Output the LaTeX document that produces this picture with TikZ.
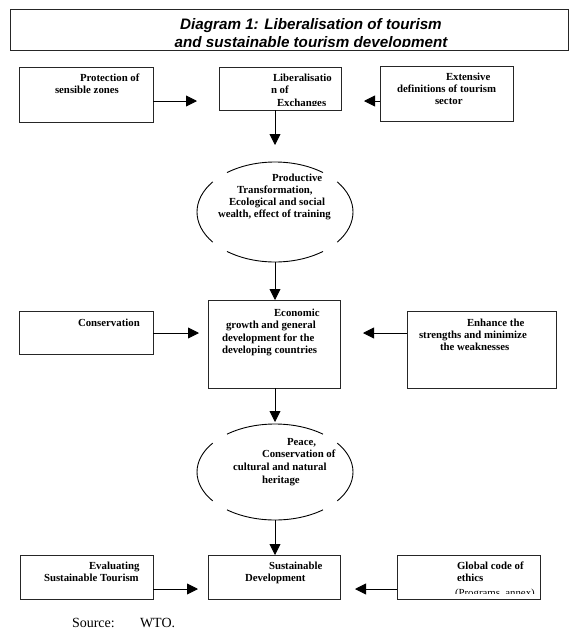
\documentclass[tikz,border=0pt]{standalone}
\usepackage{fontspec}
\setmainfont{Liberation Serif}
\newfontfamily\titlefont{Liberation Sans}
\usetikzlibrary{arrows.meta,calc,shapes.geometric}
\tikzset{
  box/.style={draw=black!85, line width=1pt, rectangle, inner sep=0pt, outer sep=0pt},
  tx/.style={anchor=base west, inner sep=0pt, outer sep=0pt, font=\bfseries\fontsize{10.8}{12}\selectfont},
  src/.style={anchor=base west, inner sep=0pt, outer sep=0pt, font=\fontsize{14}{16}\selectfont},
  ttl/.style={anchor=base, inner sep=0pt, outer sep=0pt, font=\titlefont\bfseries\itshape\fontsize{15.2}{18}\selectfont},
  arr/.style={line width=0.9pt, -{Triangle[length=11pt,width=11pt]}},
  oval/.style={ellipse, draw=none, inner sep=0pt, outer sep=0pt},
  arcline/.style={line width=0.9pt}
}
\newcommand\tline[4]{\node[tx] (#1) at (#2,#3) {#4};}
\newcommand\gapoval[3]{% name, xr, yr
  \draw[arcline] ([shift={(52:#2 and #3)}]#1.center) arc[start angle=52,end angle=128,x radius=#2,y radius=#3];
  \draw[arcline] ([shift={(143:#2 and #3)}]#1.center) arc[start angle=143,end angle=217,x radius=#2,y radius=#3];
  \draw[arcline] ([shift={(232:#2 and #3)}]#1.center) arc[start angle=232,end angle=308,x radius=#2,y radius=#3];
  \draw[arcline] ([shift={(-37:#2 and #3)}]#1.center) arc[start angle=-37,end angle=37,x radius=#2,y radius=#3];
}
\begin{document}
\begin{tikzpicture}[x=1pt,y=-1pt]
\useasboundingbox (0,0) rectangle (578,641);

% title
\node[box, minimum width=558pt, minimum height=41pt] (T) at (289,29.5) {};
\node[ttl] (T1) at (311,29) {Diagram 1: Liberalisation of tourism};
\begin{scope}
  \clip (10,30) rectangle (568,46.5);
  \node[ttl] (T2) at (311,47.5) {and sustainable tourism development};
\end{scope}

% row 1
\node[box, minimum width=134pt, minimum height=55pt] (A) at (86,94.5) {};
\tline{a1}{80}{81}{Protection of}
\tline{a2}{55}{93}{sensible zones}

\node[box, minimum width=122pt, minimum height=43pt] (B) at (280,88.5) {};
\tline{b1}{273}{81}{Liberalisatio}
\tline{b2}{271}{93}{n of}
\begin{scope}
  \clip (220,95) rectangle (340,105.5);
  \tline{b3}{277}{106.5}{Exchanges}
\end{scope}

\node[box, minimum width=133pt, minimum height=55pt] (C) at (446.5,93.5) {};
\tline{c1}{446}{80}{Extensive}
\tline{c2}{397}{92}{definitions of tourism}
\tline{c3}{435}{104}{sector}

\coordinate (ta) at (197,101);
\coordinate (tc) at (364,101);
\draw[arr] (A.east |- ta) -- (ta);
\draw[arr] (C.west |- tc) -- (tc);

% oval 1
\node[oval, minimum width=156pt, minimum height=100pt] (P) at (275,212) {};
\gapoval{P}{78pt}{50pt}
\tline{p1}{272}{181}{Productive}
\tline{p2}{237}{193}{Transformation,}
\tline{p3}{229}{205}{Ecological and social}
\tline{p4}{218}{217}{wealth, effect of training}
\coordinate (tb) at (275,145);
\draw[arr] (B.south -| tb) -- (tb);

% row 2
\node[box, minimum width=132pt, minimum height=88pt] (D) at (274,344) {};
\tline{d1}{274}{316}{Economic}
\tline{d2}{226}{328}{growth and general}
\tline{d3}{222}{341}{development for the}
\tline{d4}{222}{353}{developing countries}
\draw[arr] (P.south) -- (D.north -| P.south);

\node[box, minimum width=134pt, minimum height=43pt] (E) at (86,332.5) {};
\tline{e1}{78}{326}{Conservation}

\node[box, minimum width=149pt, minimum height=77pt] (F) at (481.5,349.5) {};
\tline{f1}{467}{326}{Enhance the}
\tline{f2}{419}{338}{strengths and minimize}
\tline{f3}{440}{350}{the weaknesses}

\coordinate (te) at (199,333);
\coordinate (tf) at (363,333);
\draw[arr] (E.east |- te) -- (te);
\draw[arr] (F.west |- tf) -- (tf);

% oval 2
\node[oval, minimum width=156pt, minimum height=96pt] (Q) at (275,472) {};
\gapoval{Q}{78pt}{48pt}
\tline{q1}{287}{445}{Peace,}
\tline{q2}{262}{457}{Conservation of}
\tline{q3}{233}{470}{cultural and natural}
\tline{q4}{262}{483}{heritage}
\coordinate (td) at (275,422);
\draw[arr] (D.south -| td) -- (td);

% row 3
\node[box, minimum width=132pt, minimum height=44pt] (G) at (274,577) {};
\tline{g1}{269}{569}{Sustainable}
\tline{g2}{245}{581}{Development}
\draw[arr] (Q.south) -- (G.north -| Q.south);

\node[box, minimum width=133pt, minimum height=44pt] (H) at (86.5,577) {};
\tline{h1}{89}{569}{Evaluating}
\tline{h2}{44}{581}{Sustainable Tourism}

\node[box, minimum width=143pt, minimum height=44pt] (I) at (468.5,577) {};
\tline{i1}{457}{569}{Global code of}
\tline{i2}{457}{581}{ethics}
\begin{scope}
  \clip (398,583) rectangle (539,593);
  \node[tx, font=\fontsize{10.8}{12}\selectfont] (i3) at (455,596) {(Programs, annex)};
\end{scope}

\coordinate (th) at (198,589);
\coordinate (ti) at (355,589);
\draw[arr] (H.east |- th) -- (th);
\draw[arr] (I.west |- ti) -- (ti);

% source
\node[src] (s1) at (72,627) {Source:};
\node[src] (s2) at (140,627) {WTO.};
\end{tikzpicture}
\end{document}
